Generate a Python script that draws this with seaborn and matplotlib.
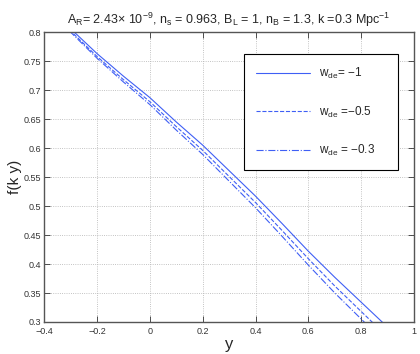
import numpy as np
import pandas as pd
import matplotlib
matplotlib.use("Agg")
import matplotlib.pyplot as plt
import seaborn as sns

# values
y_grid = [-0.4, -0.3, -0.2, -0.1, 0.0, 0.1, 0.2, 0.3, 0.4, 0.5, 0.6, 0.7, 0.8, 0.9, 1.0]
f_w1 = [0.850, 0.806, 0.763, 0.724, 0.687, 0.645, 0.605, 0.561, 0.517, 0.470, 0.422, 0.377, 0.334, 0.291, 0.250]
f_w05 = [0.847, 0.802, 0.758, 0.718, 0.680, 0.637, 0.596, 0.551, 0.506, 0.458, 0.409, 0.362, 0.318, 0.274, 0.232]
f_w03 = [0.845, 0.800, 0.755, 0.714, 0.675, 0.631, 0.589, 0.543, 0.497, 0.448, 0.398, 0.350, 0.305, 0.260, 0.217]

labels = [r"w$_{\rm de}$= $-$1", r"w$_{\rm de}$ =$-$0.5", r"w$_{\rm de}$ = $-$0.3"]
styles = ["-", "--", "-."]
blue = "#3f5ff5"

sns.set_style("ticks")
plt.rcParams['font.family'] = ['Liberation Sans', 'DejaVu Sans']
plt.rcParams['mathtext.fontset'] = 'custom'
plt.rcParams['mathtext.rm'] = 'Liberation Sans'
plt.rcParams['mathtext.it'] = 'Liberation Sans'

fig = plt.figure(figsize=(4.2, 3.54), dpi=100)
ax = fig.add_axes([0.105, 0.0904, 0.881, 0.819])

handles = []
for vals, ls in zip([f_w1, f_w05, f_w03], styles):
    df = pd.DataFrame({"y": y_grid, "f": vals})
    sns.lineplot(data=df, x="y", y="f", ax=ax, color=blue, linestyle=ls,
                 linewidth=0.8)
    handles.append(ax.lines[-1])

ax.set_xlim(-0.4, 1.0)
ax.set_ylim(0.3, 0.8)
ax.set_xticks(np.arange(-0.4, 1.01, 0.2))
ax.set_yticks(np.arange(0.3, 0.801, 0.05))
ax.set_xticklabels(["\u22120.4", "\u22120.2", "0", "0.2", "0.4", "0.6", "0.8", "1"])
ax.set_yticklabels(["0.3", "0.35", "0.4", "0.45", "0.5", "0.55", "0.6", "0.65", "0.7", "0.75", "0.8"])
ax.tick_params(direction="in", top=True, right=True, length=4, width=0.6,
               labelsize=6.5, colors="#333333", pad=2)
ax.tick_params(axis="x", pad=3.5)
ax.grid(True, linestyle=":", color="#b0b0b0", linewidth=0.6)
for s in ax.spines.values():
    s.set_color("#555555")
    s.set_linewidth(1.0)

ax.set_xlabel("y", fontsize=12, labelpad=1)
ax.set_ylabel("f(k y)", fontsize=11, labelpad=1)
ax.set_title(r"A$_{\rm R}$= 2.43$\times$ 10$^{-9}$, n$_{\rm s}$ = 0.963, B$_{\rm L}$ = 1, "
             r"n$_{\rm B}$ = 1.3, k =0.3 Mpc$^{-1}$", fontsize=9, pad=6)

leg = ax.legend(handles, labels, loc="upper left",
                bbox_to_anchor=(0.54, 0.528, 0.417, 0.396), mode="expand",
                borderaxespad=0, fontsize=8.5, handlelength=4.6, labelspacing=2.0,
                borderpad=1.0, fancybox=False, framealpha=1, edgecolor="black")
leg.get_frame().set_linewidth(0.8)

plt.savefig("out.png", dpi=100)
